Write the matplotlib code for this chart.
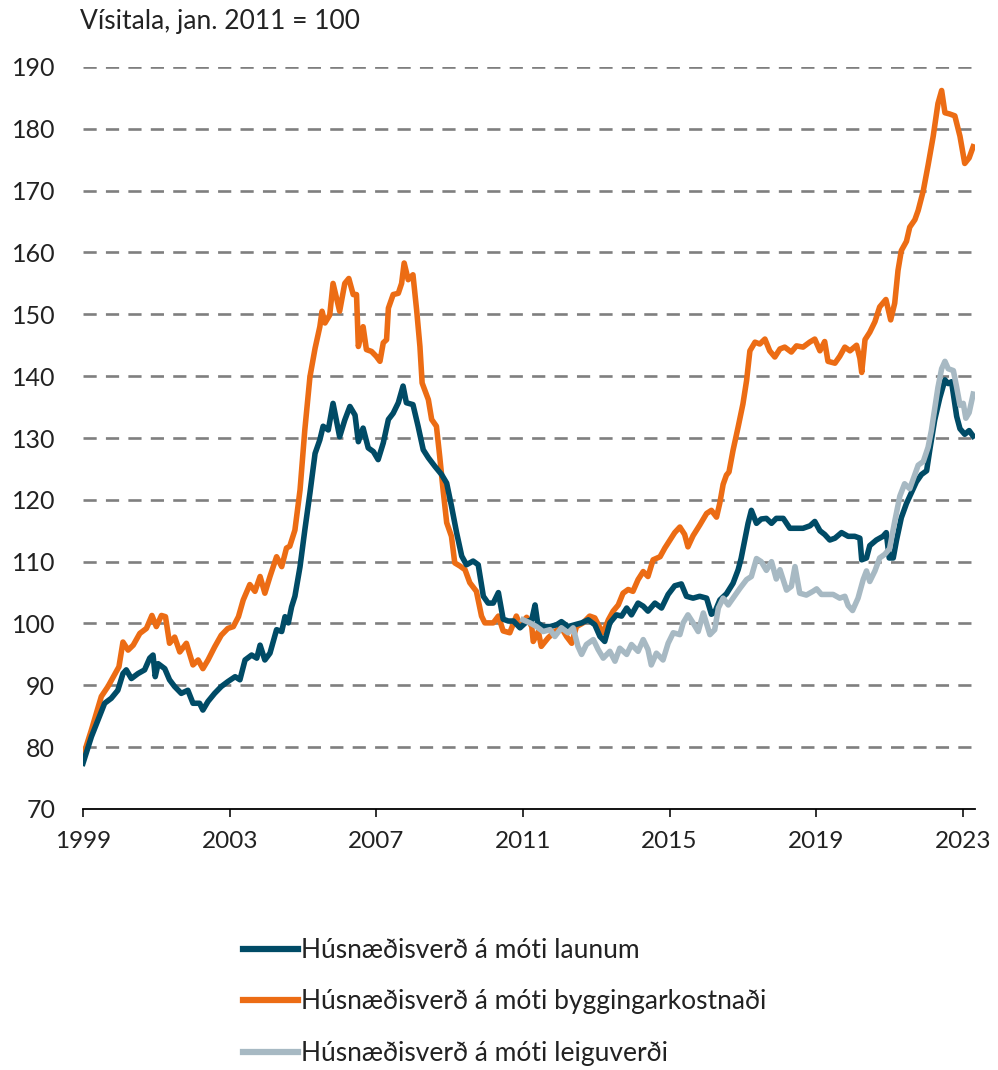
import matplotlib
matplotlib.use("Agg")
import matplotlib.pyplot as plt

plt.rcParams['font.family'] = ['Lato', 'DejaVu Sans']

title = "Vísitala, jan. 2011 = 100"
labels = ["Húsnæðisverð á móti launum",
          "Húsnæðisverð á móti byggingarkostnaði",
          "Húsnæðisverð á móti leiguverði"]
colors = ["#004B66", "#EC6C14", "#A7B9C3"]

x_ticks = [1999, 2003, 2007, 2011, 2015, 2019, 2023]
y_ticks = [70, 80, 90, 100, 110, 120, 130, 140, 150, 160, 170, 180, 190]

# Húsnæðisverð á móti launum
laun_t = [1999.00, 1999.23, 1999.41, 1999.59, 1999.77, 1999.95, 2000.09, 2000.18, 2000.32, 2000.50,
          2000.68, 2000.82, 2000.91, 2000.97, 2001.05, 2001.23, 2001.36, 2001.50, 2001.68, 2001.86,
          2002.00, 2002.18, 2002.27, 2002.41, 2002.59, 2002.77, 2002.95, 2003.15, 2003.28, 2003.42,
          2003.60, 2003.74, 2003.83, 2003.96, 2004.10, 2004.28, 2004.42, 2004.51, 2004.60, 2004.69,
          2004.78, 2004.92, 2005.05, 2005.19, 2005.33, 2005.46, 2005.55, 2005.69, 2005.82, 2006.00,
          2006.14, 2006.28, 2006.42, 2006.51, 2006.64, 2006.78, 2006.92, 2007.05, 2007.19, 2007.33,
          2007.46, 2007.60, 2007.73, 2007.82, 2008.00, 2008.14, 2008.28, 2008.42, 2008.60, 2008.78,
          2008.92, 2009.05, 2009.19, 2009.33, 2009.46, 2009.64, 2009.78, 2009.92, 2010.05, 2010.19,
          2010.33, 2010.46, 2010.60, 2010.74, 2010.92, 2011.10, 2011.24, 2011.33, 2011.40, 2011.55,
          2011.74, 2011.92, 2012.05, 2012.23, 2012.42, 2012.60, 2012.78, 2012.96, 2013.10, 2013.23,
          2013.37, 2013.55, 2013.69, 2013.83, 2013.96, 2014.14, 2014.28, 2014.41, 2014.60, 2014.78,
          2014.96, 2015.14, 2015.32, 2015.46, 2015.64, 2015.82, 2016.01, 2016.14, 2016.23, 2016.37,
          2016.55, 2016.73, 2016.87, 2016.95, 2017.05, 2017.14, 2017.23, 2017.37, 2017.50, 2017.64,
          2017.78, 2017.91, 2018.10, 2018.28, 2018.46, 2018.64, 2018.83, 2018.96, 2019.10, 2019.23,
          2019.37, 2019.51, 2019.69, 2019.87, 2020.05, 2020.19, 2020.24, 2020.37, 2020.46, 2020.64,
          2020.82, 2020.91, 2020.99, 2021.10, 2021.19, 2021.32, 2021.46, 2021.60, 2021.73, 2021.87,
          2022.01, 2022.10, 2022.23, 2022.37, 2022.51, 2022.60, 2022.69, 2022.83, 2022.92, 2023.05,
          2023.17, 2023.28]
laun_v = [77.4, 81.7, 84.4, 87.1, 87.9, 89.2, 91.9, 92.5, 91.1, 91.9,
          92.5, 94.4, 94.9, 91.4, 93.5, 92.7, 90.9, 89.8, 88.7, 89.2,
          87.1, 87.1, 86.0, 87.4, 88.7, 89.8, 90.6, 91.4, 90.9, 94.1,
          94.9, 94.4, 96.5, 94.1, 95.2, 99.0, 98.7, 101.1, 100.1, 102.7,
          104.4, 109.2, 115.1, 121.1, 127.5, 129.7, 131.9, 131.3, 135.6, 130.2,
          132.9, 135.1, 133.7, 129.4, 131.6, 128.4, 127.8, 126.5, 129.2, 133.0,
          134.0, 135.7, 138.4, 135.7, 135.4, 131.9, 128.1, 126.8, 125.4, 124.1,
          122.7, 119.0, 114.7, 110.9, 109.5, 110.1, 109.5, 104.4, 103.3, 103.3,
          105.0, 100.7, 100.4, 100.4, 99.3, 100.3, 100.6, 103.0, 100.1, 99.5,
          99.5, 99.8, 100.3, 99.5, 99.8, 100.1, 100.6, 99.8, 97.9, 97.1,
          100.1, 101.4, 101.2, 102.5, 101.4, 103.3, 102.8, 102.0, 103.3, 102.5,
          104.7, 106.1, 106.4, 104.4, 104.1, 104.4, 104.1, 101.5, 101.8, 103.8,
          104.8, 106.5, 108.7, 110.5, 113.5, 116.2, 118.3, 116.2, 116.9, 117.0,
          116.2, 117.0, 117.0, 115.4, 115.4, 115.4, 115.8, 116.5, 115.0, 114.4,
          113.5, 113.8, 114.7, 114.1, 114.1, 113.8, 110.3, 110.6, 112.6, 113.5,
          114.1, 114.7, 110.6, 110.6, 113.5, 117.1, 119.4, 121.2, 122.9, 124.1,
          124.7, 128.2, 132.9, 136.5, 139.4, 138.8, 139.1, 133.5, 131.5, 130.6,
          131.2, 130.3]

# Húsnæðisverð á móti byggingarkostnaði
bygg_t = [1999.00, 1999.23, 1999.50, 1999.68, 1999.86, 1999.98, 2000.09, 2000.23, 2000.37, 2000.55,
          2000.73, 2000.88, 2001.00, 2001.14, 2001.25, 2001.36, 2001.50, 2001.64, 2001.82, 2002.00,
          2002.14, 2002.27, 2002.41, 2002.59, 2002.77, 2002.95, 2003.10, 2003.24, 2003.37, 2003.55,
          2003.69, 2003.83, 2003.96, 2004.10, 2004.28, 2004.42, 2004.55, 2004.64, 2004.78, 2004.92,
          2005.05, 2005.19, 2005.33, 2005.46, 2005.52, 2005.60, 2005.73, 2005.82, 2006.00, 2006.14,
          2006.25, 2006.37, 2006.46, 2006.51, 2006.64, 2006.73, 2006.87, 2007.00, 2007.10, 2007.19,
          2007.28, 2007.33, 2007.46, 2007.60, 2007.69, 2007.76, 2007.87, 2008.00, 2008.10, 2008.19,
          2008.25, 2008.42, 2008.51, 2008.64, 2008.73, 2008.82, 2008.92, 2009.05, 2009.14, 2009.28,
          2009.42, 2009.55, 2009.73, 2009.87, 2009.96, 2010.19, 2010.33, 2010.46, 2010.64, 2010.82,
          2010.92, 2011.10, 2011.24, 2011.28, 2011.42, 2011.50, 2011.69, 2011.87, 2012.05, 2012.19,
          2012.33, 2012.46, 2012.64, 2012.82, 2012.96, 2013.10, 2013.19, 2013.33, 2013.46, 2013.60,
          2013.73, 2013.87, 2014.00, 2014.14, 2014.28, 2014.41, 2014.55, 2014.74, 2014.87, 2015.01,
          2015.14, 2015.28, 2015.41, 2015.50, 2015.64, 2015.82, 2016.01, 2016.14, 2016.28, 2016.37,
          2016.46, 2016.55, 2016.62, 2016.73, 2016.87, 2017.00, 2017.10, 2017.19, 2017.33, 2017.46,
          2017.60, 2017.73, 2017.87, 2018.01, 2018.14, 2018.32, 2018.46, 2018.64, 2018.82, 2018.96,
          2019.10, 2019.23, 2019.32, 2019.51, 2019.64, 2019.78, 2019.92, 2020.10, 2020.19, 2020.24,
          2020.33, 2020.46, 2020.60, 2020.73, 2020.90, 2021.03, 2021.14, 2021.23, 2021.32, 2021.46,
          2021.55, 2021.69, 2021.78, 2021.92, 2022.05, 2022.19, 2022.32, 2022.42, 2022.51, 2022.64,
          2022.78, 2022.92, 2023.05, 2023.17, 2023.28]
bygg_v = [78.5, 82.8, 88.2, 89.8, 91.7, 93.0, 97.0, 95.7, 96.5, 98.4,
          99.2, 101.3, 99.5, 101.3, 101.1, 96.8, 97.8, 95.4, 96.8, 93.3,
          94.1, 92.7, 94.1, 96.2, 98.1, 99.2, 99.5, 101.1, 103.8, 106.3,
          105.2, 107.6, 104.9, 107.6, 110.8, 109.2, 112.2, 112.5, 115.1, 121.6,
          131.3, 139.9, 144.5, 148.0, 150.5, 148.6, 149.9, 155.0, 150.5, 155.0,
          155.8, 153.2, 153.2, 144.8, 148.0, 144.3, 144.0, 143.2, 142.4, 145.4,
          145.9, 151.0, 153.2, 153.4, 155.0, 158.3, 155.6, 156.4, 150.7, 144.8,
          138.9, 136.2, 133.0, 131.9, 127.0, 121.7, 116.3, 114.1, 109.8, 109.3,
          108.7, 106.6, 105.2, 101.2, 100.1, 100.1, 101.2, 98.8, 98.5, 101.2,
          99.8, 101.0, 99.5, 97.1, 98.7, 96.3, 97.7, 98.7, 99.3, 97.9,
          96.8, 99.5, 100.1, 101.2, 100.9, 99.3, 98.5, 100.6, 102.0, 103.0,
          104.9, 105.5, 105.2, 107.1, 108.4, 107.6, 110.3, 110.8, 112.2, 113.5,
          114.7, 115.6, 114.4, 112.4, 114.2, 115.9, 117.8, 118.3, 117.2, 119.5,
          122.5, 124.0, 124.5, 128.0, 131.8, 135.5, 139.3, 144.1, 145.5, 145.2,
          146.0, 144.1, 143.1, 144.4, 144.7, 143.9, 144.9, 144.7, 145.5, 146.0,
          144.1, 145.6, 142.4, 142.1, 143.2, 144.7, 144.1, 145.0, 142.9, 140.6,
          145.9, 147.1, 148.8, 151.2, 152.4, 149.1, 151.8, 157.1, 160.3, 161.8,
          164.1, 165.3, 166.8, 170.0, 174.1, 178.8, 184.1, 186.2, 182.6, 182.4,
          182.1, 178.8, 174.4, 175.3, 177.1]

# Húsnæðisverð á móti leiguverði
leiga_t = [2011.00, 2011.19, 2011.37, 2011.55, 2011.74, 2011.87, 2012.05, 2012.23, 2012.37, 2012.50,
           2012.60, 2012.73, 2012.92, 2013.05, 2013.19, 2013.37, 2013.51, 2013.64, 2013.83, 2013.96,
           2014.14, 2014.28, 2014.41, 2014.50, 2014.64, 2014.82, 2014.96, 2015.10, 2015.28, 2015.37,
           2015.50, 2015.64, 2015.78, 2015.92, 2016.10, 2016.23, 2016.33, 2016.46, 2016.60, 2016.73,
           2016.92, 2017.10, 2017.23, 2017.37, 2017.50, 2017.64, 2017.78, 2017.91, 2018.01, 2018.19,
           2018.32, 2018.42, 2018.55, 2018.73, 2018.91, 2019.01, 2019.14, 2019.28, 2019.46, 2019.64,
           2019.78, 2019.87, 2019.99, 2020.14, 2020.28, 2020.37, 2020.46, 2020.60, 2020.73, 2020.87,
           2021.00, 2021.14, 2021.28, 2021.41, 2021.55, 2021.69, 2021.78, 2021.92, 2022.05, 2022.14,
           2022.23, 2022.32, 2022.42, 2022.51, 2022.60, 2022.74, 2022.83, 2022.92, 2023.01, 2023.08,
           2023.17, 2023.28]
leiga_v = [100.6, 100.1, 99.5, 98.7, 99.0, 97.9, 99.3, 98.5, 99.3, 96.3,
           95.0, 96.6, 97.4, 95.8, 94.4, 95.5, 93.9, 96.0, 95.0, 96.6,
           95.5, 97.4, 95.8, 93.3, 95.2, 94.1, 96.8, 98.5, 98.2, 100.1,
           101.4, 100.1, 98.7, 101.7, 98.2, 99.0, 102.5, 104.1, 103.0, 104.1,
           105.7, 107.1, 107.6, 110.5, 110.0, 108.6, 110.0, 107.2, 108.7, 105.4,
           106.0, 109.2, 104.9, 104.6, 105.2, 105.6, 104.7, 104.7, 104.7, 104.1,
           104.4, 102.9, 102.1, 104.1, 107.1, 108.5, 106.8, 108.5, 110.6, 111.2,
           112.1, 116.5, 120.6, 122.6, 121.8, 124.1, 125.6, 126.2, 128.5, 131.2,
           134.7, 138.2, 141.2, 142.4, 141.2, 140.9, 138.2, 135.3, 135.6, 133.2,
           134.1, 137.1]

W, H = 998, 1070
fig = plt.figure(figsize=(W / 100, H / 100), dpi=100)
ax = fig.add_axes([83 / W, 1 - 809 / H, (975 - 83) / W, (809 - 67) / H])

lw = 4.0
l1, = ax.plot(laun_t, laun_v, color=colors[0], lw=lw, solid_joinstyle='round', zorder=3)
l2, = ax.plot(bygg_t, bygg_v, color=colors[1], lw=lw, solid_joinstyle='round', zorder=2)
l3, = ax.plot(leiga_t, leiga_v, color=colors[2], lw=lw, solid_joinstyle='round', zorder=4)

ax.set_xlim(1999, 2023.33)
ax.set_ylim(70, 190)
for v in y_ticks[1:]:
    ax.axhline(v, color="#7F7F7F", lw=1.9, dashes=(5, 3.5), zorder=1)

ax.set_yticks(y_ticks)
ax.set_xticks(x_ticks)
ax.set_xticklabels([str(t) for t in x_ticks])
ax.tick_params(axis='y', length=0, pad=20, labelsize=18, colors="#222222")
ax.tick_params(axis='x', length=6, width=1.3, direction='out', pad=10, labelsize=17.5,
               colors="#222222")
for s in ['top', 'right', 'left']:
    ax.spines[s].set_visible(False)
ax.spines['bottom'].set_linewidth(1.3)
ax.spines['bottom'].set_color("#000000")
ax.spines['bottom'].set_zorder(5)

fig.text(80 / W, 1 - 22 / H, title, fontsize=19, color="#222222", va='center', ha='left')

leg = fig.legend([l1, l2, l3], labels, loc='upper left',
                 bbox_to_anchor=(243 / W, 1 - 938 / H), frameon=False,
                 fontsize=19, handlelength=2.1, handletextpad=0.1,
                 labelspacing=1.0, borderpad=0, borderaxespad=0)
for line in leg.get_lines():
    line.set_linewidth(4.5)
for t in leg.get_texts():
    t.set_color("#222222")

fig.savefig("out.png", dpi=100)
